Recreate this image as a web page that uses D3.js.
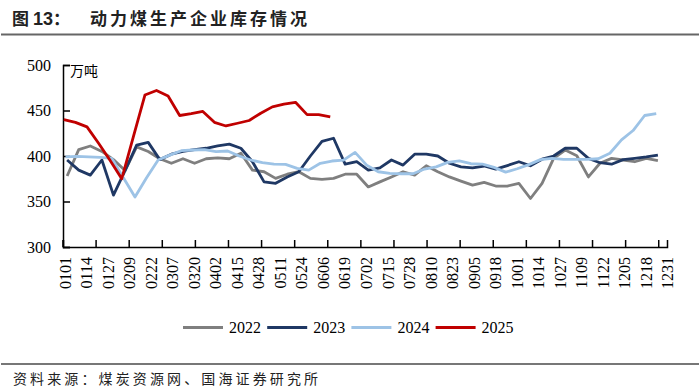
<!DOCTYPE html>
<html><head><meta charset="utf-8">
<script src="https://cdn.jsdelivr.net/npm/d3@7"></script>
<style>body{margin:0;background:#fff}svg{display:block}</style>
</head><body><svg id="c" width="700" height="392"></svg>
<script>
const xLabels = ["0101","0114","0127","0209","0222","0307","0320","0402","0415","0428","0511","0524","0606","0619","0702","0715","0728","0810","0823","0905","0918","1001","1014","1027","1109","1122","1205","1218","1231"];
const yTicks = [300,350,400,450,500];
const years = ["2022","2023","2024","2025"];
const startDays = [2,2,1,0]; // day-of-year of first weekly reading
const v2022 = [378,407,411,405,396,384,410,405,397,392,397,392,397,398,397,403,384.5,382.7,375.4,380,382.7,375.4,374.3,375.4,380,380,366,371.6,377,382.7,379,389.3,382.7,377,372.4,368,371,367,367,370,353.3,370,397.4,406.6,400.3,377,392,397.4,395.6,393.7,397.4,395];
const v2023 = [395.6,384.5,379,395.6,357,384,412,415,396,402,405,407,408.5,411,413,408.5,393.7,371.6,370,377,382.7,400,416,419.5,391,393.7,384.5,387,395.6,390,402,402,400,392,388,387,389,385.5,389.5,393.7,389.3,396.5,400,408.5,408.5,397.4,392.6,391,396,397.4,399,401];
const v2024 = [399,399.5,399,398.5,397.4,376,355,376,395.6,401,405.8,406.6,407,404.8,405.5,400,395.6,392.6,391,390.8,386.4,384.5,392,394.5,395.5,404,390,382.7,381,380.5,380.5,385.7,388,393,394.6,391.5,391,387.5,382.3,386,390.5,396,397.4,396.3,396.3,396.3,397,403,417.7,428,444.5,446.5];
const v2025 = [440,437,432,414,395,375,421,467,472,466,444.5,446.5,449,437,433,436,439,447,454,457,459,445.5,445.5,443];
const seriesValues = [v2022,v2023,v2024,v2025];
const colors = ["#7f7f7f","#1f3864","#9dc3e6","#c00000"];
const unitLabel = "万吨";
const titleText = "动力煤生产企业库存情况";
const sourceText = "资料来源：煤炭资源网、国海证券研究所";

const svg = d3.select("#c");
const L = 63, R = 667, T = 65, B = 247;
const parseMD = d3.timeParse("%m%d");
const dayOf = s => { const d = parseMD(s); return d3.timeDay.count(d3.timeYear(d), d); };

const x = d3.scaleBand().domain(d3.range(365)).range([L, R]);
const xc = d => x(d) + x.bandwidth() / 2;
const y = d3.scaleLinear().domain([300, 500]).range([B, T]);

const serif = "'Liberation Serif','Times New Roman',serif";
const cjk = "'Noto Sans CJK SC','Noto Sans',sans-serif";

// title
const tg = svg.append("g").attr("font-weight", "bold").attr("fill", "#222");
tg.append("text").attr("x", 12).attr("y", 25).attr("font-family", cjk).attr("font-size", 17).text("图");
tg.append("text").attr("x", 33).attr("y", 25).attr("font-family", "'Liberation Sans',Arial,sans-serif").attr("font-size", 18).text("13");
tg.append("text").attr("x", 53).attr("y", 25).attr("font-family", cjk).attr("font-size", 17).text("：");
tg.append("text").attr("x", 90).attr("y", 25).attr("font-family", cjk).attr("font-size", 17)
  .attr("textLength", 217).attr("lengthAdjust", "spacing").text(titleText);
svg.append("line").attr("x1", 1).attr("x2", 699).attr("y1", 34.5).attr("y2", 34.5).attr("stroke", "#666").attr("stroke-width", 2);

// y axis
const ya = svg.append("g").attr("transform", `translate(${L},0)`)
  .call(d3.axisLeft(y).tickValues(yTicks).tickSize(-7).tickPadding(12).tickFormat(d3.format("d")));
ya.select(".domain").attr("stroke", "#000").attr("stroke-width", 1.5);
ya.selectAll(".tick line").attr("stroke", "#000").attr("stroke-width", 1.5);
ya.selectAll(".tick text").attr("font-family", serif).attr("font-size", 16).attr("fill", "#000");
svg.append("text").attr("x", 70).attr("y", 76).attr("font-family", cjk).attr("font-size", 14).attr("fill", "#000").text(unitLabel);

// x axis
const xa = svg.append("g").attr("transform", `translate(0,${B})`)
  .call(d3.axisBottom(x).tickValues(d3.range(0, 365, 20)).tickSize(-7).tickFormat(""));
xa.select(".domain").attr("stroke", "#000").attr("stroke-width", 1.5);
xa.selectAll(".tick line").attr("stroke", "#000").attr("stroke-width", 1.5).attr("transform", `translate(${-x.bandwidth()/2},0)`);
svg.append("g").selectAll("text").data(xLabels).join("text")
  .attr("transform", d => `translate(${xc(dayOf(d)) + 1.5},257) rotate(-90)`)
  .attr("text-anchor", "end").attr("dominant-baseline", "central")
  .attr("font-family", serif).attr("font-size", 16).attr("fill", "#000").text(d => d);

// lines
const line = d3.line().x(d => xc(d.day)).y(d => y(d.v));
seriesValues.forEach((vals, i) => {
  const pts = vals.map((v, k) => ({ day: startDays[i] + 7 * k, v }));
  svg.append("path").datum(pts).attr("d", line).attr("fill", "none")
    .attr("stroke", colors[i]).attr("stroke-width", 2.8).attr("stroke-linejoin", "round");
});

// legend
const lg = svg.append("g").selectAll("g").data(years).join("g")
  .attr("transform", (d, i) => `translate(${183 + i * 84.2},327.5)`);
lg.append("line").attr("x1", 0).attr("x2", 40).attr("stroke", (d, i) => colors[i]).attr("stroke-width", 3);
lg.append("text").attr("x", 46).attr("dominant-baseline", "central").attr("font-family", serif)
  .attr("font-size", 16).attr("fill", "#000").text(d => d);

// source
svg.append("line").attr("x1", 1).attr("x2", 699).attr("y1", 364).attr("y2", 364).attr("stroke", "#777").attr("stroke-width", 2);
svg.append("text").attr("x", 13).attr("y", 384).attr("font-family", cjk).attr("font-size", 14).attr("fill", "#222")
  .attr("textLength", 305).attr("lengthAdjust", "spacing").text(sourceText);
</script></body></html>
